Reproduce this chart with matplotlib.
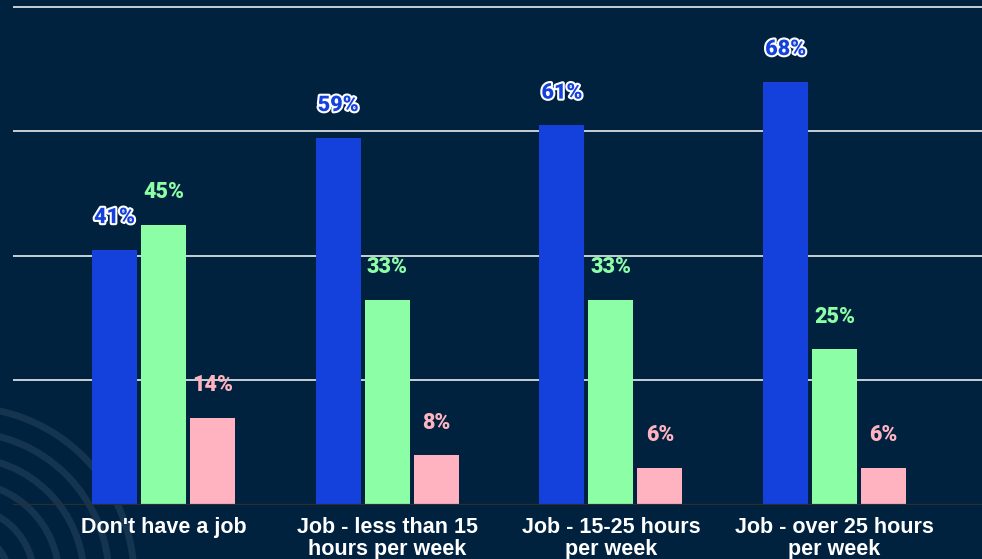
import numpy as np
import matplotlib
matplotlib.use('Agg')
from matplotlib import pyplot as plt
from matplotlib.patches import Circle
import matplotlib.patheffects as pe

categories = ["Don't have a job", "Job - less than 15\nhours per week",
              "Job - 15-25 hours\nper week", "Job - over 25 hours\nper week"]
blue_vals = [41, 59, 61, 68]
green_vals = [45, 33, 33, 25]
pink_vals = [14, 8, 6, 6]
grid_vals = [20, 40, 60, 80]

bg = '#00223f'
blue = '#1440dc'
green = '#8cffa6'
pink = '#ffb3c1'

W, H = 982, 559
fig = plt.figure(figsize=(W / 100, H / 100), dpi=100, facecolor=bg)

# background decoration: faint concentric arcs, bottom left
ax_bg = fig.add_axes([0, 0, 1, 1])
ax_bg.set_xlim(0, W)
ax_bg.set_ylim(H, 0)
ax_bg.set_facecolor(bg)
ax_bg.axis('off')
for r in (171, 146, 121, 96, 71, 46):
    ax_bg.add_patch(Circle((-37, 578), r, fill=False, lw=5, color='#15344f'))

ax = fig.add_axes([13 / W, 54 / H, (W - 13) / W, 505 / H])
ax.set_facecolor('none')
ax.set_xlim(-0.673, 3.659)
ax.set_ylim(0, 81.12)

x = np.arange(len(categories))
w = 0.201
step = 0.219
series = [(blue_vals, blue, -step), (green_vals, green, 0), (pink_vals, pink, step)]
for vals, col, off in series:
    ax.bar(x + off, vals, w, color=col, zorder=3)
    for xi, v in zip(x, vals):
        t = ax.annotate('%d%%' % v, (xi + off, v), xytext=(0, 23.5), textcoords='offset points',
                        ha='center', va='center', fontsize=15.5, fontweight='heavy',
                        family='Roboto', color=col, zorder=5)
        if col == blue:
            t.set_path_effects([pe.withStroke(linewidth=3, foreground='white')])

for g in grid_vals:
    ax.axhline(g, color='white', lw=1.1, zorder=1)
ax.axhline(0, color='#2e2e2e', lw=1.6, zorder=4)

for s in ax.spines.values():
    s.set_visible(False)
ax.set_yticks([])
ax.set_xticks(x)
ax.set_xticklabels(categories, family='Liberation Sans', fontweight='bold',
                   fontsize=15.5, color='white', linespacing=1.05)
ax.tick_params(axis='x', length=0, pad=8.5)

plt.savefig('out.png', dpi=100, facecolor=bg)
